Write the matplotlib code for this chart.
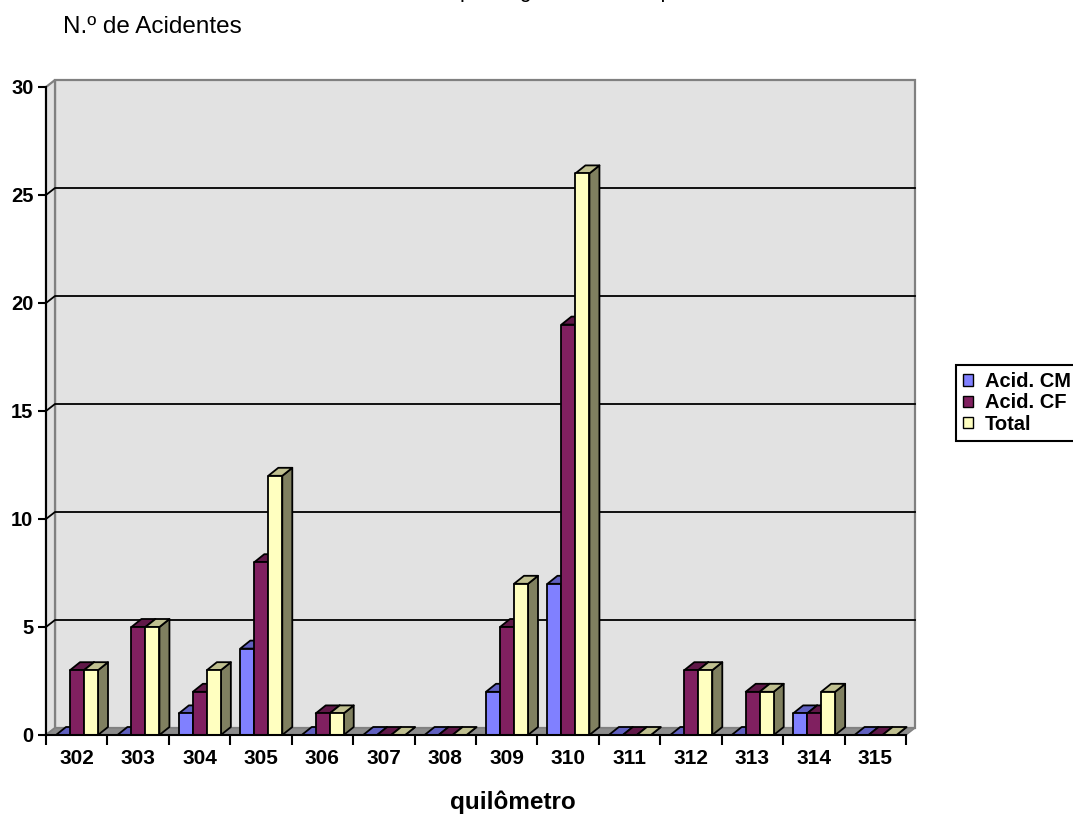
import matplotlib.pyplot as plt
from matplotlib.patches import Polygon, Patch

plt.rcParams['font.family'] = ['Liberation Sans', 'DejaVu Sans']

# dados por quilômetro
km = ["302", "303", "304", "305", "306", "307", "308",
      "309", "310", "311", "312", "313", "314", "315"]
acid_cm = [0, 0, 1, 4, 0, 0, 0, 2, 7, 0, 0, 0, 1, 0]
acid_cf = [3, 5, 2, 8, 1, 0, 0, 5, 19, 0, 3, 2, 1, 0]
total = [3, 5, 3, 12, 1, 0, 0, 7, 26, 0, 3, 2, 2, 0]

series = [
    ("Acid. CM", acid_cm, "#8080FF", "#6060C0", "#404080"),
    ("Acid. CF", acid_cf, "#802060", "#601848", "#401030"),
    ("Total", total, "#FFFFC0", "#C0C090", "#808060"),
]

W, H = 1073, 839
fig = plt.figure(figsize=(W / 100, H / 100), dpi=100)

# área do gráfico (frente do eixo)
x0, x1, y0, y1 = 46, 906, 735, 87
ax = fig.add_axes([x0 / W, (H - y0) / H, (x1 - x0) / W, (y0 - y1) / H])
n = len(km)
ymax = 30
ax.set_xlim(0, n)
ax.set_ylim(0, ymax)
px_x = (x1 - x0) / n
px_y = (y0 - y1) / ymax

# profundidade 3D em unidades dos eixos
wdx, wdy = 9 / px_x, 7 / px_y
bdx, bdy = 10 / px_x, 8 / px_y
boff, bw = 10 / px_x, 14 / px_x

wall_c, wall_e = "#E2E2E2", "#808080"
ax.add_patch(Polygon([(wdx, wdy), (n + wdx, wdy), (n + wdx, ymax + wdy), (wdx, ymax + wdy)],
                     closed=True, fc=wall_c, ec=wall_e, lw=1.6, zorder=0.5, clip_on=False))
ax.add_patch(Polygon([(0, 0), (wdx, wdy), (wdx, ymax + wdy), (0, ymax)],
                     closed=True, fc=wall_c, ec=wall_e, lw=1.6, zorder=0.6, clip_on=False))
ax.add_patch(Polygon([(0, 0), (n, 0), (n + wdx, wdy), (wdx, wdy)],
                     closed=True, fc="#8C8C8C", ec="#808080", lw=1.0, zorder=0.7, clip_on=False))

# linhas de grade na parede
for v in range(5, ymax, 5):
    ax.plot([0, wdx, n + wdx], [v, v + wdy, v + wdy], color="black", lw=1.3,
            zorder=1, clip_on=False)

# barras 3D
z = 2
for i in range(n):
    for s, (name, vals, front, top, side) in enumerate(series):
        v = vals[i]
        xl = i + boff + s * bw
        xr = xl + bw
        kw = dict(closed=True, ec="black", lw=1.3, clip_on=False, joinstyle="round")
        ax.add_patch(Polygon([(xr, 0), (xr + bdx, bdy), (xr + bdx, v + bdy), (xr, v)],
                             fc=side, zorder=z, **kw))
        ax.add_patch(Polygon([(xl, v), (xr, v), (xr + bdx, v + bdy), (xl + bdx, v + bdy)],
                             fc=top, zorder=z, **kw))
        ax.add_patch(Polygon([(xl, 0), (xr, 0), (xr, v), (xl, v)],
                             fc=front, zorder=z, **kw))
        z += 0.01

for sp in ["top", "right"]:
    ax.spines[sp].set_visible(False)
for sp in ["left", "bottom"]:
    ax.spines[sp].set_linewidth(1.5)
    ax.spines[sp].set_zorder(10)
ax.patch.set_visible(False)

ax.set_yticks(range(0, ymax + 1, 5))
ax.tick_params(axis="y", direction="out", length=6, width=1.5, pad=3, labelsize=14.5)
for lb in ax.get_yticklabels():
    lb.set_fontweight("bold")

ax.set_xticks(range(0, n + 1))
ax.set_xticklabels([])
ax.tick_params(axis="x", which="major", direction="out", length=7.5, width=1.5)
ax.set_xticks([i + 0.5 for i in range(n)], minor=True)
ax.set_xticklabels(km, minor=True, fontsize=15, fontweight="bold")
ax.tick_params(axis="x", which="minor", length=0, pad=10)

ax.set_xlabel("quilômetro", fontsize=17.5, fontweight="bold")
ax.xaxis.set_label_coords((513 - x0) / (x1 - x0), -(790 - y0) / (y0 - y1))

fig.text(63 / W, 1 - 33 / H, "N.º de Acidentes", fontsize=17.5, ha="left", va="baseline")
# título (fica quase todo acima da borda da figura)
fig.text(250 / W, 1 + 3.5 / H, "Número de acidentes por segmento da via por km",
         fontsize=15.5, ha="left", va="baseline")

handles = [Patch(fc=c, ec="black", lw=1.0) for _, _, c, _, _ in series]
leg = fig.legend(handles, [s[0] for s in series], loc="upper left",
                 bbox_to_anchor=(956 / W, 1 - 365 / H), borderaxespad=0,
                 fancybox=False, framealpha=1, edgecolor="black",
                 handlelength=0.5, handleheight=0.5, handletextpad=0.6,
                 labelspacing=0.12, borderpad=0.35,
                 prop={"size": 14.5, "weight": "bold"})
leg.get_frame().set_linewidth(1.5)

fig.savefig("out.png", dpi=100)
